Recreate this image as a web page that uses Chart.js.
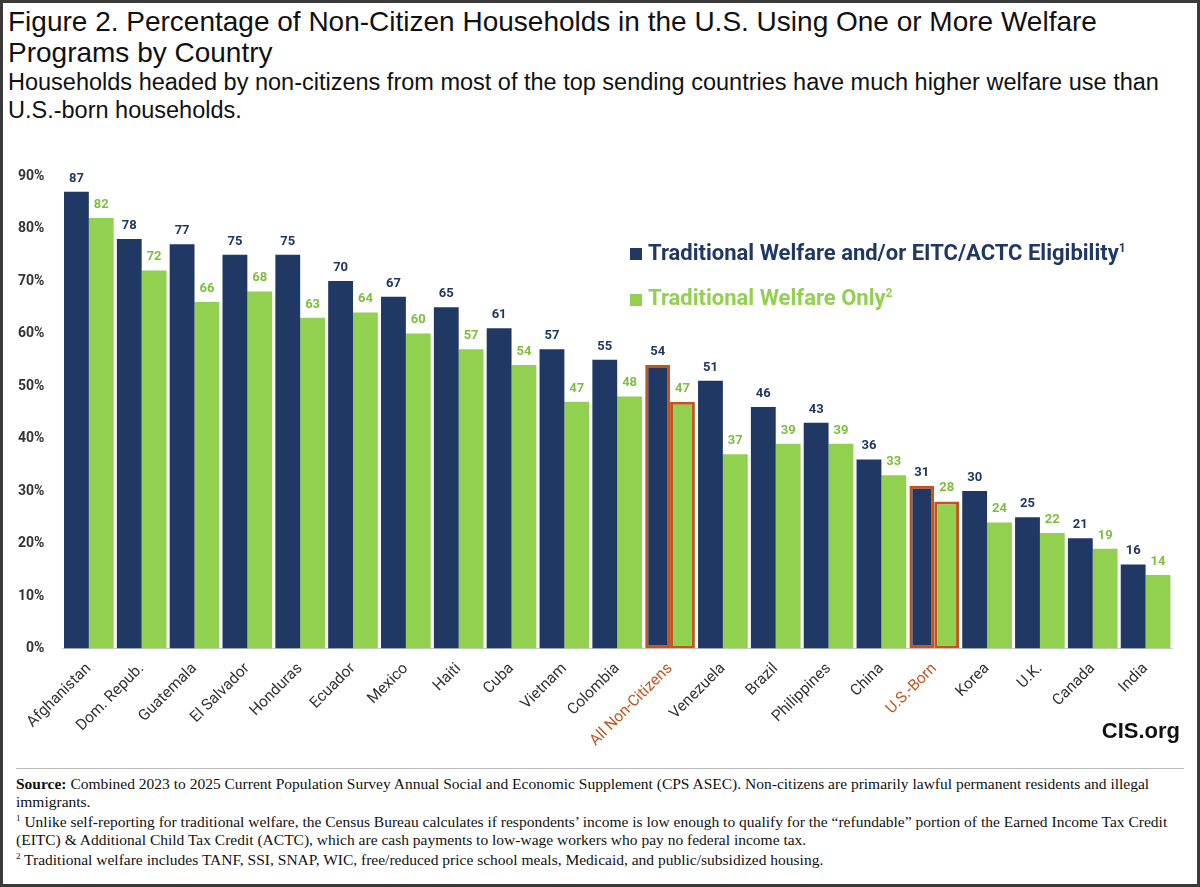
<!DOCTYPE html>
<html><head><meta charset="utf-8">
<script src="https://cdn.jsdelivr.net/npm/chart.js@4"></script>
<style>
body{margin:0;width:1200px;height:887px;overflow:hidden;background:#fff;font-family:"Liberation Sans",Arial,sans-serif}
#frame{position:absolute;left:0;top:0;width:1194px;height:881px;border:3px solid #3a3a3a}
#title{position:absolute;left:8px;top:6px;font-size:28px;line-height:31px;color:#111;width:1185px}
#sub{position:absolute;left:8px;top:68px;font-size:23.5px;line-height:28px;color:#111;width:1185px}
#wrap{position:absolute;left:3px;top:150px;width:1194px;height:603px}
#legend{position:absolute;left:630px;top:228px;font-family:"Liberation Sans Narrow","Roboto",sans-serif;font-weight:bold;font-size:22px;line-height:40px}
#legend span.sq{display:inline-block;width:12px;height:12px;margin-right:6px}
#cis{position:absolute;right:20px;top:718px;font-weight:bold;font-size:22px;color:#111}
#rule{position:absolute;left:16px;right:16px;top:768px;border-top:1px solid #bbb}
#notes{position:absolute;left:16px;top:775px;width:1170px;font-family:"Liberation Serif",serif;font-size:15.5px;line-height:17.5px;color:#111}
</style></head><body>
<div id="frame"></div>
<div id="title">Figure 2. Percentage of Non-Citizen Households in the U.S. Using One or More Welfare Programs by Country</div>
<div id="sub">Households headed by non-citizens from most of the top sending countries have much higher welfare use than U.S.-born households.</div>
<div id="wrap"><canvas id="c"></canvas></div>
<div id="legend">
<div style="color:#1f3864"><span class="sq" style="background:#1f3864"></span>Traditional Welfare and/or EITC/ACTC Eligibility<sup style="font-size:12px">1</sup></div>
<div style="color:#92d050"><span class="sq" style="background:#92d050"></span>Traditional Welfare Only<sup style="font-size:12px">2</sup></div>
</div>
<div id="cis">CIS.org</div>
<div id="rule"></div>
<div id="notes"><b>Source:</b> Combined 2023 to 2025 Current Population Survey Annual Social and Economic Supplement (CPS ASEC). Non-citizens are primarily lawful permanent residents and illegal immigrants.<br>
<sup style="font-size:9px">1</sup> Unlike self-reporting for traditional welfare, the Census Bureau calculates if respondents’ income is low enough to qualify for the “refundable” portion of the Earned Income Tax Credit (EITC) &amp; Additional Child Tax Credit (ACTC), which are cash payments to low-wage workers who pay no federal income tax.<br>
<sup style="font-size:9px">2</sup> Traditional welfare includes TANF, SSI, SNAP, WIC, free/reduced price school meals, Medicaid, and public/subsidized housing.</div>
<script>
const countries = ['Afghanistan','Dom. Repub.','Guatemala','El Salvador','Honduras','Ecuador','Mexico','Haiti','Cuba','Vietnam','Colombia','All Non-Citizens','Venezuela','Brazil','Philippines','China','U.S.-Born','Korea','U.K.','Canada','India'];
const withEitc = [87,78,77,75,75,70,67,65,61,57,55,54,51,46,43,36,31,30,25,21,16];
const welfareOnly = [82,72,66,68,63,64,60,57,54,47,48,47,37,39,39,33,28,24,22,19,14];
const yTicks = [0,10,20,30,40,50,60,70,80,90];
const highlighted = ['All Non-Citizens','U.S.-Born'];

const NAVY = '#1f3864', GREEN = '#92d050', ORANGE = '#c0561e';
const isHi = i => highlighted.includes(countries[i]);

const valueLabels = {
    id: 'valueLabels',
    afterDatasetsDraw(chart) {
        const ctx = chart.ctx;
        ctx.save();
        ctx.font = 'bold 13px "Liberation Sans Narrow", Roboto, sans-serif';
        ctx.textAlign = 'center';
        ctx.textBaseline = 'bottom';
        chart.data.datasets.forEach((ds, di) => {
            ctx.fillStyle = di === 0 ? NAVY : '#7dbf3c';
            chart.getDatasetMeta(di).data.forEach((bar, i) => {
                ctx.fillText(ds.data[i], bar.x, bar.y - 7);
            });
        });
        ctx.restore();
    }
};

new Chart(document.getElementById('c'), {
    type: 'bar',
    data: {
        labels: countries,
        datasets: [
            {
                data: withEitc,
                backgroundColor: NAVY,
                borderColor: withEitc.map((v, i) => isHi(i) ? ORANGE : NAVY),
                borderWidth: withEitc.map((v, i) => isHi(i) ? 3 : 0),
                borderSkipped: false
            },
            {
                data: welfareOnly,
                backgroundColor: GREEN,
                borderColor: welfareOnly.map((v, i) => isHi(i) ? ORANGE : GREEN),
                borderWidth: welfareOnly.map((v, i) => isHi(i) ? 3 : 0),
                borderSkipped: false
            }
        ]
    },
    options: {
        animation: false,
        responsive: true,
        maintainAspectRatio: false,
        layout: {padding: {top: 26, right: 25, left: 5}},
        plugins: {legend: {display: false}, tooltip: {enabled: false}},
        datasets: {bar: {categoryPercentage: 0.94, barPercentage: 1}},
        scales: {
            x: {
                grid: {display: false},
                border: {color: '#ccc'},
                ticks: {
                    maxRotation: 45, minRotation: 45,
                    font: {size: 15.5, family: '"Liberation Sans Narrow", Roboto, sans-serif'},
                    color: ctx => highlighted.includes(countries[ctx.index]) ? ORANGE : '#333'
                }
            },
            y: {
                min: 0, max: 90,
                afterBuildTicks: axis => { axis.ticks = yTicks.map(v => ({value: v})); },
                grid: {display: false},
                border: {display: false},
                ticks: {
                    callback: v => v + '%',
                    font: {size: 14, weight: 'bold', family: '"Liberation Sans Narrow", Roboto, sans-serif'},
                    color: '#333', padding: 10
                }
            }
        }
    },
    plugins: [valueLabels]
});
</script>
</body></html>
